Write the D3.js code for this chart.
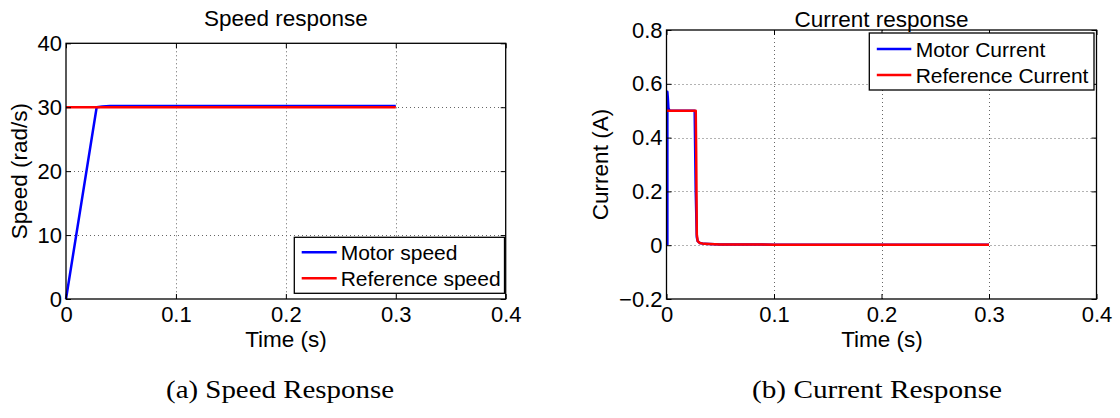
<!DOCTYPE html>
<html>
<head>
<meta charset="utf-8">
<script src="https://cdn.jsdelivr.net/npm/d3@7"></script>
<style>
  html, body { margin: 0; padding: 0; background: #fff; }
  svg { display: block; }
  text { fill: #000; }
</style>
</head>
<body>
<svg id="chart" width="1120" height="418"></svg>
<script>
// ---------- data ----------
const timeTicks = [0, 0.1, 0.2, 0.3, 0.4];
const speedTicks = [0, 10, 20, 30, 40];
const currentTicks = [-0.2, 0, 0.2, 0.4, 0.6, 0.8];

const motorSpeedTime = [0, 0.0279, 0.033, 0.04, 0.06, 0.1, 0.2, 0.3];
const motorSpeed     = [0, 30.0, 30.12, 30.18, 30.2, 30.2, 30.2, 30.2];
const refSpeedTime   = [0, 0.3];
const refSpeed       = [30, 30];

const motorCurrentTime = [0.0008, 0.0008, 0.0012, 0.0018, 0.0028, 0.0262, 0.0272, 0.0282, 0.029, 0.031, 0.035, 0.05, 0.1, 0.2, 0.3];
const motorCurrent     = [0, 0.57, 0.55, 0.51, 0.5, 0.5, 0.2, 0.03, 0.015, 0.008, 0.005, 0.003, 0.002, 0.002, 0.002];
const refCurrentTime   = [0, 0.0272, 0.0276, 0.0282, 0.029, 0.031, 0.035, 0.05, 0.1, 0.2, 0.3];
const refCurrent       = [0.5, 0.5, 0.35, 0.04, 0.015, 0.008, 0.005, 0.003, 0.002, 0.002, 0.002];

const speedLegend = ["Motor speed", "Reference speed"];
const currentLegend = ["Motor Current", "Reference Current"];
const colors = ["#0000ff", "#ff0000"];

// ---------- drawing ----------
const SANS = '"Liberation Sans", Arial, Helvetica, sans-serif';
const SERIF = '"Liberation Serif", "Times New Roman", serif';
const svg = d3.select("#chart");
const fmt = d => (d < 0 ? "\u2212" : "") + Math.abs(d);

function panel(cfg) {
  const x = d3.scaleLinear().domain([0, 0.4]).range([cfg.left, cfg.right]);
  const y = d3.scaleLinear().domain(cfg.yDomain).range([cfg.bottom, cfg.top]);
  const g = svg.append("g").style("font-family", SANS);

  // grid
  const grid = g.append("g").attr("stroke", "#666").attr("stroke-width", 1).attr("stroke-dasharray", "1,3");
  grid.selectAll("line.vx").data(timeTicks.slice(1, -1)).join("line")
    .attr("x1", d => Math.round(x(d)) + 0.5).attr("x2", d => Math.round(x(d)) + 0.5)
    .attr("y1", cfg.top).attr("y2", cfg.bottom);
  grid.selectAll("line.hy").data(cfg.yTicks.slice(1, -1)).join("line")
    .attr("y1", d => Math.round(y(d)) + 0.5).attr("y2", d => Math.round(y(d)) + 0.5)
    .attr("x1", cfg.left).attr("x2", cfg.right);

  // series
  const line = d3.line().x(d => x(d[0])).y(d => y(d[1]));
  cfg.series.forEach((s, i) => {
    g.append("path").datum(d3.zip(s.t, s.v))
      .attr("fill", "none").attr("stroke", colors[i]).attr("stroke-width", 2.5)
      .attr("stroke-linejoin", "round").attr("d", line);
  });

  // axes
  const ax = g.append("g").attr("transform", `translate(0,${cfg.bottom})`)
    .call(d3.axisBottom(x).tickValues(timeTicks).tickFormat(fmt).tickSize(-5).tickPadding(7));
  const at = g.append("g").attr("transform", `translate(0,${cfg.top})`)
    .call(d3.axisTop(x).tickValues(timeTicks).tickFormat("").tickSize(-5));
  const ay = g.append("g").attr("transform", `translate(${cfg.left},0)`)
    .call(d3.axisLeft(y).tickValues(cfg.yTicks).tickFormat(fmt).tickSize(-5).tickPadding(4));
  const ar = g.append("g").attr("transform", `translate(${cfg.right},0)`)
    .call(d3.axisRight(y).tickValues(cfg.yTicks).tickFormat("").tickSize(-5));
  [ax, at, ay, ar].forEach(a => {
    a.attr("font-family", null).attr("font-size", null);
    a.select(".domain").remove();
    a.selectAll("line").attr("stroke", "#000").attr("stroke-width", 1);
    a.selectAll("text").style("font-size", "22px").style("font-family", SANS).attr("fill", "#000");
  });

  // box
  g.append("rect").attr("x", cfg.left).attr("y", cfg.top)
    .attr("width", cfg.right - cfg.left).attr("height", cfg.bottom - cfg.top)
    .attr("fill", "none").attr("stroke", "#000").attr("stroke-width", 1.3);

  // title
  g.append("text").attr("x", (cfg.left + cfg.right) / 2).attr("y", cfg.titleY)
    .attr("text-anchor", "middle").style("font-size", "22.5px").text(cfg.title);
  // x label
  g.append("text").attr("x", cfg.xLabelX).attr("y", 347)
    .attr("text-anchor", "middle").style("font-size", "22.5px").text("Time (s)");
  // y label
  g.append("text").attr("transform", `translate(${cfg.yLabelX},${(cfg.top + cfg.bottom) / 2}) rotate(-90)`)
    .attr("text-anchor", "middle").style("font-size", "22.5px").text(cfg.yLabel);

  // legend
  const L = cfg.legend;
  const lg = g.append("g");
  lg.append("rect").attr("x", L.x0).attr("y", L.y0).attr("width", L.x1 - L.x0).attr("height", L.y1 - L.y0)
    .attr("fill", "#fff").attr("stroke", "#000").attr("stroke-width", 1.3);
  cfg.legendLabels.forEach((lab, i) => {
    const yy = L.rows[i];
    lg.append("line").attr("x1", L.lx0).attr("x2", L.lx1).attr("y1", yy).attr("y2", yy)
      .attr("stroke", colors[i]).attr("stroke-width", 2.5);
    lg.append("text").attr("x", L.tx).attr("y", yy).attr("dy", "0.36em")
      .style("font-size", "21px").text(lab);
  });

  // caption
  svg.append("text").attr("x", cfg.capX).attr("y", 398).attr("text-anchor", "middle")
    .style("font-family", SERIF).style("font-size", "25px")
    .attr("textLength", cfg.capLen).attr("lengthAdjust", "spacingAndGlyphs")
    .text(cfg.caption);
}

panel({
  left: 66, right: 505.7, top: 43.3, bottom: 299,
  yDomain: [0, 40], yTicks: speedTicks,
  series: [{ t: motorSpeedTime, v: motorSpeed }, { t: refSpeedTime, v: refSpeed }],
  title: "Speed response", titleY: 25.5, yLabel: "Speed (rad/s)", yLabelX: 27, xLabelX: 286,
  legend: { x0: 294.3, x1: 504.5, y0: 237.3, y1: 293.3, lx0: 301.7, lx1: 336.7, tx: 340.7, rows: [252.3, 278.3] },
  legendLabels: speedLegend,
  caption: "(a) Speed Response", capX: 280, capLen: 228
});

panel({
  left: 666.5, right: 1096.5, top: 30, bottom: 299,
  yDomain: [-0.2, 0.8], yTicks: currentTicks,
  series: [{ t: motorCurrentTime, v: motorCurrent }, { t: refCurrentTime, v: refCurrent }],
  title: "Current response", titleY: 27, yLabel: "Current (A)", yLabelX: 607.5, xLabelX: 882,
  legend: { x0: 869.3, x1: 1094, y0: 33, y1: 90, lx0: 876.8, lx1: 911.3, tx: 915.7, rows: [49, 75] },
  legendLabels: currentLegend,
  caption: "(b) Current Response", capX: 877, capLen: 250
});
</script>
</body>
</html>
